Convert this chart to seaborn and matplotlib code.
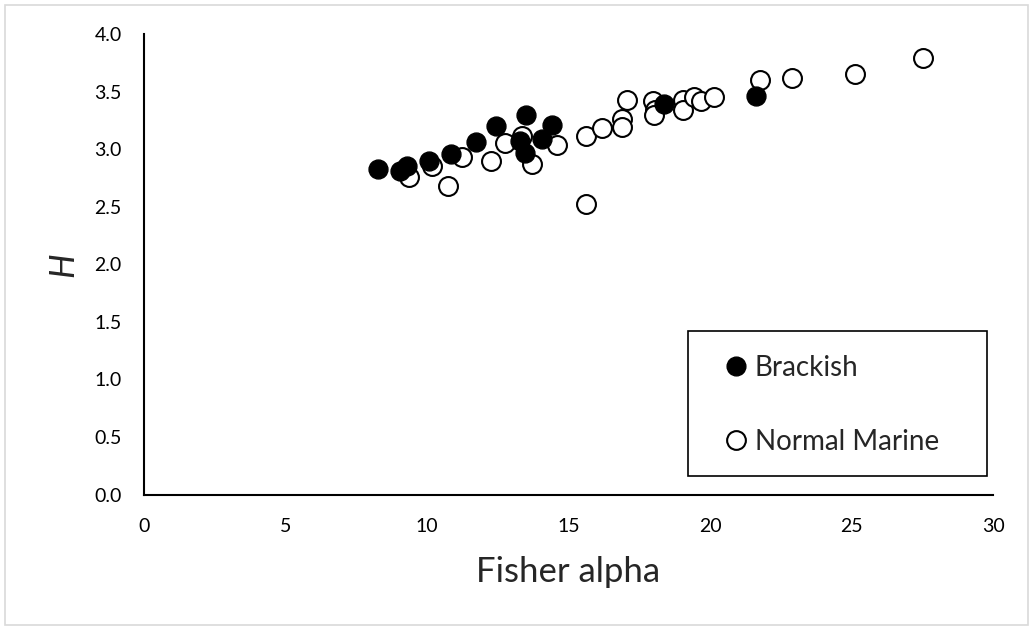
import matplotlib
matplotlib.use("Agg")
import matplotlib.pyplot as plt
import seaborn as sns
import pandas as pd
from matplotlib.patches import Rectangle
from matplotlib.lines import Line2D

# Fisher alpha vs. Shannon H for each sample
brackish_alpha = [8.26, 9.05, 9.28, 10.07, 10.84, 11.72, 12.44, 13.29, 13.46,
                  13.50, 14.06, 14.41, 18.37, 21.63]
brackish_h = [2.83, 2.81, 2.85, 2.90, 2.96, 3.06, 3.20, 3.07, 2.97,
              3.30, 3.09, 3.21, 3.39, 3.46]

marine_alpha = [9.37, 10.19, 10.75, 11.23, 12.25, 12.76, 13.35, 13.72, 14.58,
                15.61, 15.61, 16.17, 16.90, 16.90, 17.08, 18.00, 18.06, 18.03,
                19.06, 19.06, 19.43, 19.68, 20.14, 21.77, 22.89, 25.12, 27.52]
marine_h = [2.76, 2.85, 2.68, 2.93, 2.90, 3.05, 3.11, 2.87, 3.04,
            3.11, 2.52, 3.18, 3.26, 3.19, 3.43, 3.42, 3.34, 3.30,
            3.43, 3.34, 3.45, 3.42, 3.45, 3.60, 3.62, 3.65, 3.79]

groups = ["Brackish", "Normal Marine"]
x_ticks = [0, 5, 10, 15, 20, 25, 30]
y_ticks = [0.0, 0.5, 1.0, 1.5, 2.0, 2.5, 3.0, 3.5, 4.0]

df = pd.DataFrame({
    "alpha": brackish_alpha + marine_alpha,
    "H": brackish_h + marine_h,
    "group": [groups[0]] * len(brackish_alpha) + [groups[1]] * len(marine_alpha),
})

sns.set_style("white")
plt.rcParams["font.family"] = ["Lato", "DejaVu Sans"]

fig = plt.figure(figsize=(10.33, 6.27), dpi=100)
ax = fig.add_axes([0.1394, 0.2113, 0.8219, 0.7345])

marker_size = 185
# open circles first, filled circles on top
sns.scatterplot(data=df[df.group == groups[1]], x="alpha", y="H", ax=ax,
                color="white", edgecolor="black", linewidth=1.5,
                s=marker_size, legend=False, zorder=3)
sns.scatterplot(data=df[df.group == groups[0]], x="alpha", y="H", ax=ax,
                color="black", edgecolor="black", linewidth=1.0,
                s=marker_size, legend=False, zorder=4)

ax.set_xlim(0, 30)
ax.set_ylim(0, 4.0)
ax.set_xticks(x_ticks)
ax.set_xticklabels([str(v) for v in x_ticks])
ax.set_yticks(y_ticks)
ax.set_yticklabels([f"{v:.1f}" for v in y_ticks])
ax.tick_params(axis="both", length=0, labelsize=14, colors="black")
ax.tick_params(axis="y", pad=16)
ax.tick_params(axis="x", pad=17)

for side in ["top", "right"]:
    ax.spines[side].set_visible(False)
for side in ["left", "bottom"]:
    ax.spines[side].set_color("black")
    ax.spines[side].set_linewidth(1.5)

ax.set_xlabel("Fisher alpha", fontsize=25, labelpad=15)
ax.set_ylabel("H", fontsize=25, fontstyle="italic", labelpad=11)

handles = [
    Line2D([], [], marker="o", linestyle="none", markersize=13.5,
           markerfacecolor="black", markeredgecolor="black", markeredgewidth=1.0),
    Line2D([], [], marker="o", linestyle="none", markersize=13.5,
           markerfacecolor="white", markeredgecolor="black", markeredgewidth=1.5),
]
W, H = 1033, 627
leg = fig.legend(handles, groups, loc="center left",
                 bbox_to_anchor=(708 / W, 1 - 405 / H),
                 fontsize=20, frameon=False, handlelength=1.0,
                 handletextpad=0.18, labelspacing=1.72, borderpad=0)

# legend frame
fig.patches.append(Rectangle((688 / W, 1 - 476 / H), (987 - 688) / W, (476 - 331) / H,
                             transform=fig.transFigure, fill=False,
                             edgecolor="black", linewidth=1.2, zorder=5))
# chart border
fig.patches.append(Rectangle((4.5 / W, 2.5 / H), (1028 - 4.5) / W, (624 - 4) / H,
                             transform=fig.transFigure, fill=False,
                             edgecolor="#d9d9d9", linewidth=1.2))

fig.savefig("out.png", dpi=100, facecolor="white")
